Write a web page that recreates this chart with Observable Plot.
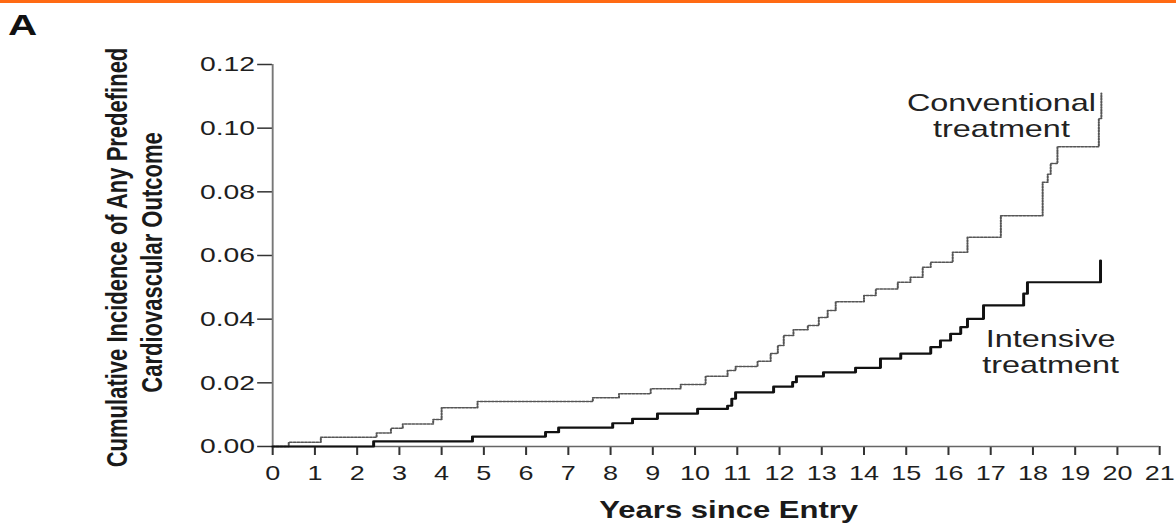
<!DOCTYPE html>
<html>
<head>
<meta charset="utf-8">
<script src="https://cdn.jsdelivr.net/npm/d3@7"></script>
<script src="https://cdn.jsdelivr.net/npm/@observablehq/plot@0.6"></script>
<style>
  html, body { margin: 0; padding: 0; background: white; width: 1176px; height: 524px; overflow: hidden; }
  #chart { position: absolute; left: 0; top: 0; }
  #chart svg { transform-origin: 0 0; }
  #bar { position: absolute; left: 0; top: 0; width: 1176px; height: 3px; background: #ff6a13; z-index: 2; }
</style>
</head>
<body>
<div id="bar"></div>
<div id="chart"></div>
<script>
// ---- data ----
const convYears = [0, 0.38, 1.14, 2.46, 2.8, 3.08, 3.8, 4.0, 4.85, 7.58, 8.2, 8.95, 9.66, 10.25, 10.77, 10.96, 11.48, 11.79, 11.96, 12.1, 12.33, 12.67, 12.93, 13.14, 13.33, 14.0, 14.28, 14.8, 15.1, 15.39, 15.58, 16.1, 16.45, 17.24, 18.23, 18.35, 18.42, 18.58, 19.56, 19.62];
const convIncidence = [0, 0.0013, 0.0029, 0.0042, 0.0057, 0.0071, 0.0085, 0.0122, 0.0141, 0.0153, 0.0166, 0.0181, 0.0195, 0.0221, 0.0239, 0.0251, 0.0268, 0.0292, 0.0317, 0.0349, 0.0367, 0.038, 0.0405, 0.0427, 0.0455, 0.0474, 0.0495, 0.0516, 0.0532, 0.0563, 0.0579, 0.061, 0.0657, 0.0725, 0.083, 0.0855, 0.0889, 0.0942, 0.103, 0.111];

const intYears = [0, 2.39, 4.73, 6.46, 6.77, 8.05, 8.52, 9.11, 10.06, 10.77, 10.87, 10.96, 11.86, 12.31, 12.4, 13.04, 13.8, 14.39, 14.87, 15.58, 15.81, 16.05, 16.29, 16.45, 16.83, 17.78, 17.87, 19.6];
const intIncidence = [0, 0.0016, 0.0031, 0.0045, 0.0059, 0.0073, 0.0087, 0.0103, 0.0118, 0.0128, 0.015, 0.017, 0.0188, 0.0202, 0.022, 0.0233, 0.0247, 0.0276, 0.0292, 0.0312, 0.0333, 0.0354, 0.0375, 0.0401, 0.0443, 0.048, 0.0516, 0.0584];

const xTickValues = [0,1,2,3,4,5,6,7,8,9,10,11,12,13,14,15,16,17,18,19,20,21];
const yTickValues = [0, 0.02, 0.04, 0.06, 0.08, 0.10, 0.12];
const xDomain = [0, 21];
const yDomain = [0, 0.12];

const panelLetter = "A";
const xTitle = "Years since Entry";
const yTitleLine1 = "Cumulative Incidence of Any Predefined";
const yTitleLine2 = "Cardiovascular Outcome";
const convLabel = "Conventional\ntreatment";
const intLabel = "Intensive\ntreatment";

// ---- tables ----
const conv = convYears.map((t, i) => ({t, v: convIncidence[i]}));
const intens = intYears.map((t, i) => ({t, v: intIncidence[i]}));

// reference image is horizontally stretched; emulate with scaleX
const s = 1.35;
const W = 1176 / s;

const chart = Plot.plot({
  width: W,
  height: 524,
  marginLeft: 272 / s,
  marginRight: 17 / s,
  marginTop: 64,
  marginBottom: 78,
  x: {domain: xDomain},
  y: {domain: yDomain},
  style: {fontFamily: "'Liberation Sans', Arial, sans-serif", background: "white", color: "#1e1e1e", overflow: "visible"},
  marks: [
    Plot.axisX({ticks: xTickValues, tickSize: 9, tickPadding: 10, fontSize: 20, label: null, tickFormat: d3.format("d"), stroke: "#333", strokeWidth: 1.5}),
    Plot.axisY({ticks: yTickValues, tickSize: 11, tickPadding: 2, fontSize: 21, label: null, tickFormat: d3.format(".2f"), stroke: "#333", strokeWidth: 1.5}),
    Plot.ruleY([yDomain[0]], {stroke: "#666", strokeWidth: 1.6}),
    Plot.ruleX([xDomain[0]], {stroke: "#777", strokeWidth: 1.4}),
    Plot.line(conv, {x: "t", y: "v", curve: "step-after", stroke: "#555", strokeWidth: 1.5, strokeDasharray: "1.6,1.2"}),
    Plot.line(intens, {x: "t", y: "v", curve: "step-after", stroke: "#111", strokeWidth: 2.2}),
    Plot.text([conv[conv.length - 1]], {x: "t", y: "v", text: () => convLabel, dx: -74, dy: 23, fontSize: 24, lineHeight: 1.08, textAnchor: "middle", lineAnchor: "middle", fill: "#222"}),
    Plot.text([intens[intens.length - 1]], {x: "t", y: "v", text: () => intLabel, dx: -37, dy: 91, fontSize: 24, lineHeight: 1.1, textAnchor: "middle", lineAnchor: "middle", fill: "#222"}),
    Plot.text([xTitle], {text: d => d, frameAnchor: "bottom", dx: 9.3, dy: 72, lineAnchor: "bottom", textAnchor: "middle", fontSize: 23, fontWeight: "bold", fill: "#1a1a1a"}),
    Plot.text([yTitleLine1], {text: d => d, frameAnchor: "left", rotate: -90, dx: 86.3 - 272 / s, dy: 2, lineAnchor: "middle", textAnchor: "middle", fontSize: 22, fontWeight: "bold", fill: "#1a1a1a"}),
    Plot.text([yTitleLine2], {text: d => d, frameAnchor: "left", rotate: -90, dx: 112.2 - 272 / s, dy: 7, lineAnchor: "middle", textAnchor: "middle", fontSize: 22, fontWeight: "bold", fill: "#1a1a1a"}),
    Plot.text([panelLetter], {text: d => d, frameAnchor: "top-left", dx: 5.5 - 272 / s, dy: 13 - 64, lineAnchor: "top", textAnchor: "start", fontSize: 30, fontWeight: "bold", fill: "#111"})
  ]
});
chart.style.transform = `scaleX(${s})`;
document.getElementById("chart").appendChild(chart);
</script>
</body>
</html>
